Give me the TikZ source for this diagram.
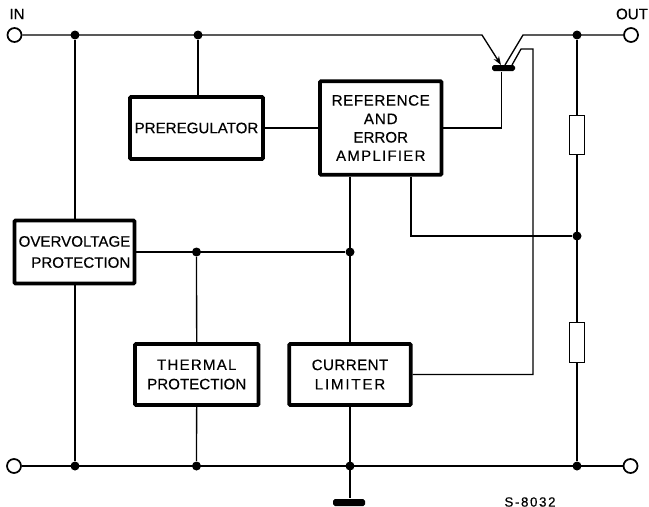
\documentclass[tikz,border=0pt]{standalone}
\usepackage{fontspec}
\setmainfont{Liberation Sans}[FakeBold=.4]
\newfontfamily\codefont{Liberation Sans}[LetterSpace=12,FakeBold=.4]
\newcommand{\spc}[2][6]{{\addfontfeature{LetterSpace=#1}#2}}
\usetikzlibrary{arrows.meta,calc,positioning}
\begin{document}
\begin{tikzpicture}[x=.02cm,y=-.02cm,font=\fontsize{8.6}{10.5}\selectfont,>=Stealth,line width=.75pt,
        blockbox/.style={draw,line width=2.2pt,rounded corners=.6pt,align=center,inner sep=0pt},
        resbox/.style={draw,fill=white,minimum width=.29cm,minimum height=.79cm,inner sep=0pt},
        dot/.style={circle,fill=black,inner sep=0pt,minimum size=.18cm},
        term/.style={circle,draw,line width=1pt,fill=white,inner sep=0pt,minimum size=.28cm},
        bar/.style={fill=black,rounded corners=1pt,inner sep=0pt}]
        \useasboundingbox (0,0) rectangle (649,507);
        \node[blockbox,minimum width=2.66cm,minimum height=1.24cm] (prereg) at (196.5,128) {PREREGULATOR};
        \node[blockbox,minimum width=2.43cm,minimum height=1.87cm] (refamp) at (380.75,128) {\spc[4]{REFERENCE}\\\spc{AND}\\ERROR\\\spc[8]{AMPLIFIER}};
        \node[blockbox,minimum width=2.4cm,minimum height=1.26cm,align=right,font=\fontsize{8.6}{12}\selectfont] (ovp) at (74.5,252) {OVERVOLTAGE\\PROTECTION};
        \node[blockbox,minimum width=2.47cm,minimum height=1.22cm,font=\fontsize{8.6}{11}\selectfont] (thermal) at (196.75,374.5) {\spc[8]{THERMAL}\\PROTECTION};
        \node[blockbox,minimum width=2.43cm,minimum height=1.22cm,font=\fontsize{8.6}{11}\selectfont] (limiter) at (350,374.5) {\spc[3]{CURRENT}\\\spc[12]{LIMITER}};
        \node[resbox] (rone) at (577,135) {};
        \node[resbox] (rtwo) at (577,342.5) {};
        \node[term] (in) at (14.5,35) {};
        \node[term] (out) at (631,35) {};
        \node[term] (gnda) at (14,466) {};
        \node[term] (gndb) at (630.5,466) {};
        \node[bar,minimum width=.46cm,minimum height=.12cm] (base) at (503.5,68) {};
        \node[bar,minimum width=.64cm,minimum height=.14cm] (gnd) at (349,502.5) {};
        \node[dot] (ta) at (75,35) {};
        \node[dot] (tb) at (198,35) {};
        \node[dot] (tc) at (577,35) {};
        \node[dot] (ma) at (196.5,252) {};
        \node[dot] (mb) at (350,252) {};
        \node[dot] (mc) at (577,236) {};
        \node[dot] (ba) at (75,466) {};
        \node[dot] (bb) at (196.5,466) {};
        \node[dot] (bc) at (350,466) {};
        \node[dot] (bd) at (577,466) {};
        \coordinate (emk) at (482,35);
        \coordinate (ema) at (501,65);
        \coordinate (cok) at (523,35);
        \coordinate (cola) at (505,65);
        \coordinate (lima) at (512,65);
        \coordinate (limb) at (521,49);
        \coordinate (limc) at (533,49);
        \coordinate (bk) at (501.5,128);
        \coordinate (fb) at (411,236);
        \draw[-{Stealth[length=5pt,width=3.5pt]}] (in)--(emk)--(ema);
        \draw (base.south -| bk)--(bk)--(refamp.east |- bk);
        \draw (cola)--(cok)--(out);
        \draw (lima)--(limb)--(limc)--(limc |- limiter.east)--(limiter.east);
        \draw (ta)--(ta |- ovp.north);
        \draw (ta |- ovp.south)--(ba);
        \draw (tb)--(tb |- prereg.north);
        \draw (prereg)--(refamp.west |- prereg);
        \draw (ovp.east |- ma)--(mb);
        \draw (ma)--(thermal);
        \draw (thermal)--(bb);
        \draw (refamp.south -| mb)--(limiter.north -| mb);
        \draw (limiter.south -| bc)--(gnd.north -| bc);
        \draw (tc)--(rone);
        \draw (rone)--(rtwo);
        \draw (rtwo)--(bd);
        \draw (refamp.south -| fb)--(fb)--(mc);
        \draw (gnda)--(gndb);
        \node (inlbl) at (17,14) {IN};
        \node (outlbl) at (632,14) {OUT};
        \node[font=\fontsize{7.6}{9}\codefont] (code) at (530,502) {S-8032};
      \end{tikzpicture}
\end{document}
